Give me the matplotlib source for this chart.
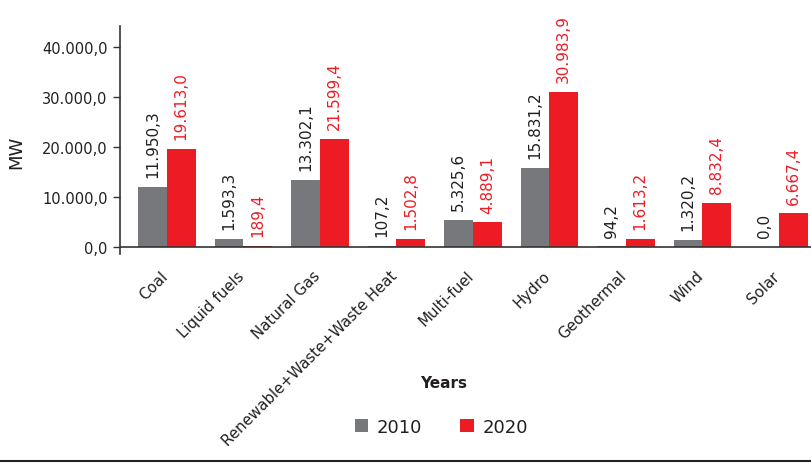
import matplotlib
matplotlib.use("Agg")
import matplotlib.pyplot as plt
import matplotlib.transforms as mtransforms
import numpy as np
from matplotlib.patches import Patch
from matplotlib.lines import Line2D

plt.rcParams['font.family'] = ['DejaVu Sans']

categories = ["Coal", "Liquid fuels", "Natural Gas", "Renewable+Waste+Waste Heat",
              "Multi-fuel", "Hydro", "Geothermal", "Wind", "Solar"]
years = ["2010", "2020"]
values_2010 = [11950.3, 1593.3, 13302.1, 107.2, 5325.6, 15831.2, 94.2, 1320.2, 0.0]
values_2020 = [19613.0, 189.4, 21599.4, 1502.8, 4889.1, 30983.9, 1613.2, 8832.4, 6667.4]
y_ticks = [0, 10000, 20000, 30000, 40000]

GREY = "#77787b"
RED = "#ed1c24"
DARK = "#231f20"


def fmt(v):
    s = f"{v:,.1f}"
    return s.replace(",", "X").replace(".", ",").replace("X", ".")


fig = plt.figure(figsize=(8.11, 4.64), dpi=100)
W, H = 811, 464
ax = fig.add_axes([120 / W, (H - 255) / H, (W - 120) / W, (255 - 27.3) / H])

x = np.arange(len(categories))
bw = 0.375
b1 = ax.bar(x - bw / 2, values_2010, bw, color=GREY, zorder=2)
b2 = ax.bar(x + bw / 2, values_2020, bw, color=RED, zorder=2)

for rect, v in zip(b1, values_2010):
    ax.annotate(fmt(v), (rect.get_x() + rect.get_width() / 2, v),
                xytext=(0, 7), textcoords="offset points", rotation=90,
                ha="center", va="bottom", fontsize=11, color=DARK)
for rect, v in zip(b2, values_2020):
    ax.annotate(fmt(v), (rect.get_x() + rect.get_width() / 2, v),
                xytext=(0, 7), textcoords="offset points", rotation=90,
                ha="center", va="bottom", fontsize=11, color=RED)

ax.set_xlim(-0.614, 8.42)
ax.set_ylim(-1460, 44080)
ax.axhline(0, color="#333333", lw=1.2, zorder=3)

ax.set_yticks(y_ticks)
ax.set_yticklabels([fmt(t) for t in y_ticks], fontsize=10.5, color=DARK)
ax.tick_params(axis="y", length=5, width=1, color="#333333", pad=4)

ax.set_xticks(x)
ax.set_xticklabels(categories, rotation=45, ha="right", rotation_mode="anchor",
                   fontsize=10.8, color=DARK)
ax.tick_params(axis="x", length=0, pad=10)
shift = mtransforms.ScaledTranslation(-7 / 100, 0, fig.dpi_scale_trans)
for lbl in ax.get_xticklabels():
    lbl.set_transform(lbl.get_transform() + shift)

for s in ["top", "right", "bottom"]:
    ax.spines[s].set_visible(False)
ax.spines["left"].set_color("#333333")
ax.spines["left"].set_linewidth(1.2)

fig.text(16.7 / W, (H - 152) / H, "MW", rotation=90, ha="center", va="center",
         fontsize=13, color=DARK)
fig.text(444 / W, (H - 384) / H, "Years", ha="center", va="center",
         fontsize=11, fontweight="bold", color=DARK)

handles = [Patch(facecolor=GREY, edgecolor="none"), Patch(facecolor=RED, edgecolor="none")]
fig.legend(handles, years, loc="center", bbox_to_anchor=(441.5 / W, (H - 428) / H),
           ncol=2, frameon=False, fontsize=13, handlelength=0.75, handleheight=0.75,
           handletextpad=0.5, columnspacing=2.1, labelcolor=DARK)

fig.add_artist(Line2D([0, 1], [(H - 462) / H] * 2, transform=fig.transFigure,
                      color="#222222", lw=1.5))

fig.savefig("out.png", dpi=100)
